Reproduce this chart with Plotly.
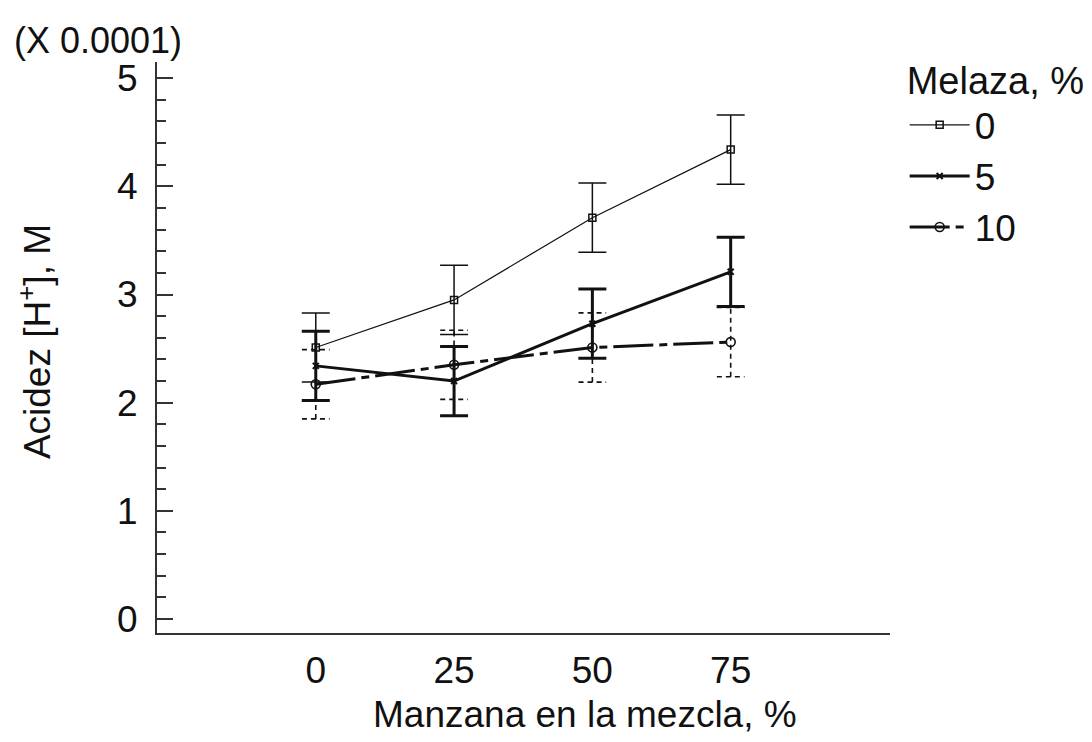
import plotly.graph_objects as go

# Data (values in units of 0.0001 M)
manzana = [0, 25, 50, 75]
melaza_labels = ["0", "5", "10"]
acidez_m0 = [2.51, 2.95, 3.71, 4.34]
acidez_m5 = [2.34, 2.20, 2.73, 3.21]
acidez_m10 = [2.17, 2.35, 2.51, 2.56]
half_interval = [0.32, 0.32, 0.32, 0.32]
y_ticks = [0, 1, 2, 3, 4, 5]
x_ticks = [0, 25, 50, 75]

FONT = "Liberation Sans, Arial, sans-serif"
INK = "#111111"
FS = 37

fig = go.Figure()

# Series 0: thin solid, open square
fig.add_trace(go.Scatter(
    x=manzana, y=acidez_m0, name=melaza_labels[0], mode="lines+markers",
    line=dict(color=INK, width=1.2),
    marker=dict(symbol="square-open", size=7, color=INK, line=dict(width=1.5)),
    error_y=dict(type="data", array=half_interval, visible=True,
                 color=INK, thickness=1.5, width=14),
))

# Series 5: thick solid, x marker
fig.add_trace(go.Scatter(
    x=manzana, y=acidez_m5, name=melaza_labels[1], mode="lines+markers",
    line=dict(color=INK, width=3),
    marker=dict(symbol="x-thin-open", size=6, color=INK, line=dict(width=2, color=INK)),
    error_y=dict(type="data", array=half_interval, visible=True,
                 color=INK, thickness=3, width=14),
))

# Series 10: thick dash-dot, open circle; dashed interval bars drawn as segments
cap = 2.5
ex, ey = [], []
for xv, yv, h in zip(manzana, acidez_m10, half_interval):
    ex += [xv, xv, None, xv - cap, xv + cap, None, xv - cap, xv + cap, None]
    ey += [yv - h, yv + h, None, yv - h, yv - h, None, yv + h, yv + h, None]
fig.add_trace(go.Scatter(
    x=ex, y=ey, mode="lines", showlegend=False, hoverinfo="skip",
    line=dict(color=INK, width=1.6, dash="5px,4px"),
))
fig.add_trace(go.Scatter(
    x=manzana, y=acidez_m10, name=melaza_labels[2], mode="lines+markers",
    line=dict(color=INK, width=3, dash="40px,6px,8px,6px"),
    marker=dict(symbol="circle-open", size=9, color=INK, line=dict(width=1.6)),
))

fig.update_layout(
    width=1092, height=742,
    margin=dict(l=149, r=210, t=54, b=117),
    paper_bgcolor="white", plot_bgcolor="white",
    font=dict(family=FONT, size=FS, color=INK),
    showlegend=True,
    legend=dict(
        title=dict(text="Melaza, %", font=dict(size=38)),
        x=1.02, y=1.03, xanchor="left", yanchor="top",
        font=dict(size=FS), bgcolor="rgba(0,0,0,0)",
        tracegroupgap=0, itemwidth=60,
    ),
    xaxis=dict(
        range=[-28.7, 103.8], tickvals=x_ticks, ticktext=[str(v) for v in x_ticks],
        showline=True, linecolor="#333333", linewidth=2,
        showgrid=False, zeroline=False, ticks="", ticklabelstandoff=4,
        tickfont=dict(size=FS),
    ),
    yaxis=dict(
        range=[-0.13, 5.15], tickvals=y_ticks, ticktext=[str(v) for v in y_ticks],
        showline=True, linecolor="#333333", linewidth=2,
        showgrid=False, zeroline=False,
        ticks="inside", ticklen=16, tickwidth=2, tickcolor="#333333",
        minor=dict(dtick=0.2, ticks="inside", ticklen=9, tickwidth=2, tickcolor="#333333"),
        ticklabelstandoff=10, tickfont=dict(size=FS),
    ),
    annotations=[
        dict(text="Manzana en la mezcla, %", xref="paper", yref="paper",
             x=0.584, y=-0.142, xanchor="center", yanchor="middle",
             showarrow=False, font=dict(size=FS)),
        dict(text="Acidez [H<sup>+</sup>], M", xref="paper", yref="paper",
             x=-0.166, y=0.51, xanchor="center", yanchor="middle",
             textangle=-90, showarrow=False, font=dict(size=FS)),
        dict(text="(X 0.0001)", xref="paper", yref="paper",
             x=-0.198, y=1.037, xanchor="left", yanchor="middle",
             showarrow=False, font=dict(size=36)),
    ],
)

fig.write_html("out.html")
